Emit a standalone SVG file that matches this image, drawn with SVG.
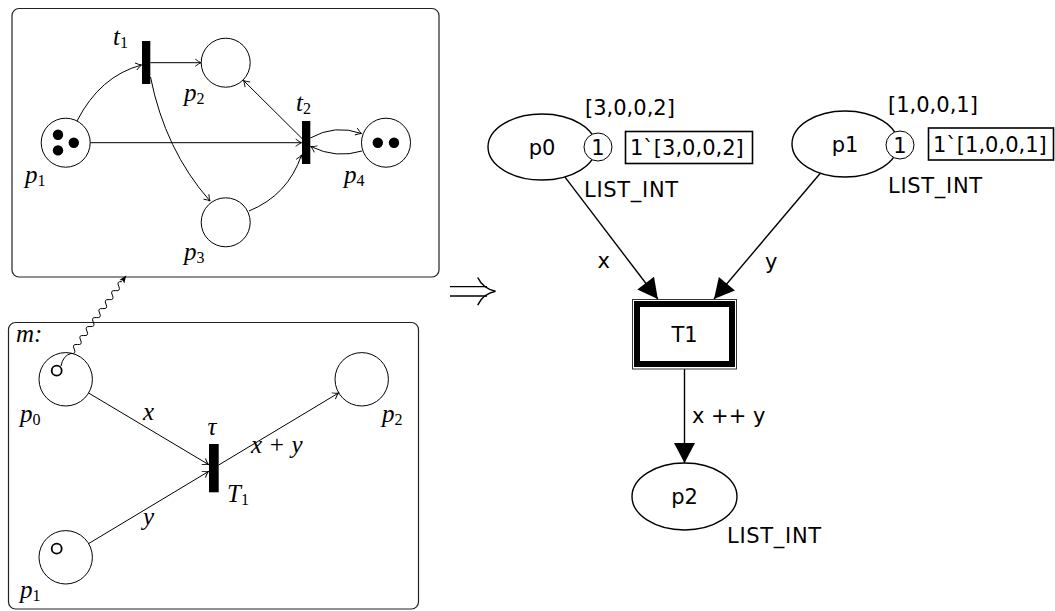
<svg xmlns="http://www.w3.org/2000/svg" width="1055" height="611" viewBox="0 0 1055 611">
<defs>
<style>
.frame{fill:none;stroke:#222;stroke-width:1.2}
.pl{fill:#fff;stroke:#000;stroke-width:1}
.tr{fill:#000}
.arc{fill:none;stroke:#000;stroke-width:1}
.m{font-family:"Liberation Serif","Times New Roman",serif;font-style:italic;font-size:25px;fill:#000}
.sub{font-style:normal;font-size:16px}
.tok{fill:#000}
.otok{fill:none;stroke:#000;stroke-width:1.8}
.cpn{font-family:"DejaVu Sans",Verdana,sans-serif;font-size:21px;fill:#000}
.ls{letter-spacing:0.7px}
.ce{fill:#fff;stroke:#000;stroke-width:1.4}
.ct{fill:#fff;stroke:#000;stroke-width:1}
.cb{fill:#fff;stroke:#000;stroke-width:1.6}
.carc{fill:none;stroke:#000;stroke-width:1.4}
</style>
<marker id="to" markerUnits="userSpaceOnUse" viewBox="-7 -5 8 10" refX="0" refY="0" markerWidth="8" markerHeight="10" orient="auto" overflow="visible">
<path d="M-5.5,-3.4 Q-2,-0.7 0,0 Q-2,0.7 -5.5,3.4" fill="none" stroke="#000" stroke-width="0.9" stroke-linecap="round"/>
</marker>
<marker id="tri" markerUnits="userSpaceOnUse" viewBox="-21 -11 22 22" refX="0" refY="0" markerWidth="22" markerHeight="22" orient="auto" overflow="visible">
<path d="M-20,-10.5 L0,0 L-20,10.5 Z" fill="#000"/>
</marker>
</defs>

<!-- upper net -->
<g id="frame-top"><rect class="frame" x="12" y="8.5" width="427" height="268.5" rx="7"/></g>

<g id="top-p1">
<circle class="pl" cx="65.7" cy="142.7" r="24.5"/>
<circle class="tok" cx="58" cy="134.8" r="5.2"/>
<circle class="tok" cx="58" cy="150.4" r="5.2"/>
<circle class="tok" cx="73.8" cy="142.7" r="5.2"/>
<text class="m" x="25" y="182.7">p<tspan class="sub" dy="3">1</tspan></text>
</g>
<g id="top-t1">
<rect class="tr" x="142" y="41" width="8.3" height="43"/>
<text class="m" x="113" y="45">t<tspan class="sub" dy="2.5">1</tspan></text>
</g>
<g id="top-p2">
<circle class="pl" cx="225.7" cy="62.7" r="24.5"/>
<text class="m" x="184" y="101">p<tspan class="sub" dy="3">2</tspan></text>
</g>
<g id="top-p3">
<circle class="pl" cx="225.7" cy="222.3" r="24.5"/>
<text class="m" x="184" y="260">p<tspan class="sub" dy="3">3</tspan></text>
</g>
<g id="top-t2">
<rect class="tr" x="302" y="121" width="8.3" height="43"/>
<text class="m" x="296" y="111">t<tspan class="sub" dy="2.5">2</tspan></text>
</g>
<g id="top-p4">
<circle class="pl" cx="386" cy="142.7" r="24.5"/>
<circle class="tok" cx="377.8" cy="142.7" r="5.2"/>
<circle class="tok" cx="394" cy="142.7" r="5.2"/>
<text class="m" x="344" y="182.7">p<tspan class="sub" dy="3">4</tspan></text>
</g>

<g id="top-arcs" class="arc">
<path d="M77,121 Q100,76 141.5,65" marker-end="url(#to)"/>
<path d="M150.3,62.7 L201,62.7" marker-end="url(#to)"/>
<path d="M150.5,77 Q165,150 210,201" marker-end="url(#to)"/>
<path d="M90.2,142.7 L301.5,142.7" marker-end="url(#to)"/>
<path d="M249,211 Q288,195 301.5,155" marker-end="url(#to)"/>
<path d="M302,138.5 L243.5,80.5" marker-end="url(#to)"/>
<path d="M310.3,138 Q335,124 361.5,133.5" marker-end="url(#to)"/>
<path d="M362,151 Q336,159 310.8,146.5" marker-end="url(#to)"/>
</g>

<!-- module m -->
<g id="frame-m">
<rect class="frame" x="8.5" y="322.5" width="410" height="286.5" rx="7"/>
<text class="m" x="16" y="342">m:</text>
</g>
<g id="m-p0">
<circle class="pl" cx="65.7" cy="379.3" r="26.7"/>
<circle class="otok" cx="56.7" cy="370.7" r="5"/>
<text class="m" x="20" y="421.7">p<tspan class="sub" dy="3">0</tspan></text>
</g>
<g id="m-p1">
<circle class="pl" cx="65.7" cy="557.3" r="26.7"/>
<circle class="otok" cx="56.7" cy="548.7" r="5"/>
<text class="m" x="20" y="598">p<tspan class="sub" dy="3">1</tspan></text>
</g>
<g id="m-p2">
<circle class="pl" cx="361.7" cy="379.3" r="26.7"/>
<text class="m" x="382" y="421.7">p<tspan class="sub" dy="3">2</tspan></text>
</g>
<g id="m-T1">
<rect class="tr" x="209" y="444" width="9.7" height="48.3"/>
<text class="m" x="207.5" y="435">τ</text>
<text class="m" x="227" y="501.7">T<tspan class="sub" dy="3">1</tspan></text>
</g>

<g id="m-arcs">
<g class="arc">
<path d="M88.6,393 L208.5,464.5" marker-end="url(#to)"/>
<path d="M88.6,543.6 L208.5,471.5" marker-end="url(#to)"/>
<path d="M218.7,465 L338.5,393" marker-end="url(#to)"/>
<!-- refinement link from the token of p0 up to the upper net -->
<path d="M61,366 Q63,355.5 71,353.5 q5.67,0.65 3.18,-4.49 t3.18,-4.49 t3.18,-4.49 t3.18,-4.49 t3.18,-4.49 t3.18,-4.49 t3.18,-4.49 t3.18,-4.49 t3.18,-4.49 t3.18,-4.49 t3.18,-4.49 t3.18,-4.49 t3.18,-4.49 t3.18,-4.49 t3.18,-4.49 t3.18,-4.49"/>
</g>
<polygon points="126.2,275.6 124.35,283.43 122.77,280.48 119.45,279.97" fill="#000"/>
<text class="m" x="143" y="420">x</text>
<text class="m" x="143" y="524.5">y</text>
<text class="m" x="251" y="452.5">x + y</text>
</g>

<!-- implication arrow between the two views -->
<g id="implies" fill="none" stroke="#000">
<path d="M450,286.7 H487 M450,296 H487" stroke-width="1.3"/>
<path d="M478,278 Q483,288.5 495.5,291.3 Q483,294 478,304.6" stroke-width="1.5" stroke-linecap="round"/>
</g>

<!-- coloured net -->
<g id="cpn-arcs">
<path class="carc" d="M564.8,176.9 L657.8,299" marker-end="url(#tri)"/>
<path class="carc" d="M820.3,173.2 L714,299" marker-end="url(#tri)"/>
<path class="carc" d="M684.5,369 L684.5,463" marker-end="url(#tri)"/>
<text class="cpn" x="597.5" y="268">x</text>
<text class="cpn" x="765" y="269">y</text>
<text class="cpn" x="692" y="423">x ++ y</text>
</g>

<g id="cpn-p0">
<ellipse class="ce" cx="542" cy="147" rx="54" ry="33"/>
<text class="cpn" x="542" y="154.5" text-anchor="middle">p0</text>
<circle class="ct" cx="598" cy="147" r="14"/>
<text class="cpn" x="598" y="154.6" text-anchor="middle">1</text>
<rect class="cb" x="625.5" y="131.5" width="127" height="32"/>
<text class="cpn" x="630" y="155">1`[3,0,0,2]</text>
<text class="cpn" x="585" y="114.5">[3,0,0,2]</text>
<text class="cpn ls" x="584" y="197">LIST_INT</text>
</g>

<g id="cpn-p1">
<ellipse class="ce" cx="845" cy="144" rx="53" ry="33"/>
<text class="cpn" x="845" y="151.5" text-anchor="middle">p1</text>
<circle class="ct" cx="900" cy="145" r="14"/>
<text class="cpn" x="900" y="152.6" text-anchor="middle">1</text>
<rect class="cb" x="928.5" y="128" width="125" height="32"/>
<text class="cpn" x="933" y="151.5">1`[1,0,0,1]</text>
<text class="cpn" x="888" y="111.5">[1,0,0,1]</text>
<text class="cpn ls" x="888" y="193">LIST_INT</text>
</g>

<g id="cpn-T1">
<rect x="632.5" y="299.5" width="104" height="69.5" fill="#fff" stroke="#333" stroke-width="1"/>
<rect x="637" y="304" width="95" height="60" fill="#fff" stroke="#000" stroke-width="6"/>
<text class="cpn" x="684.5" y="341.5" text-anchor="middle">T1</text>
</g>

<g id="cpn-p2">
<ellipse class="ce" cx="684.5" cy="496.5" rx="52.5" ry="33.5"/>
<text class="cpn" x="684.5" y="503.5" text-anchor="middle">p2</text>
<text class="cpn ls" x="727" y="543">LIST_INT</text>
</g>
</svg>
